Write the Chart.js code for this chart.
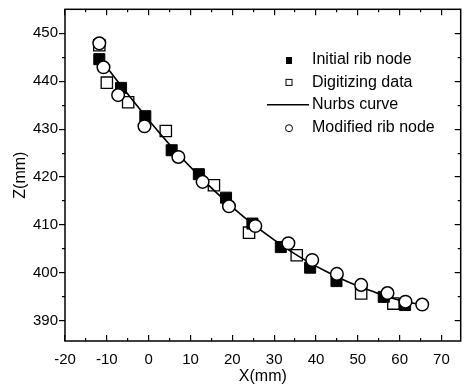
<!DOCTYPE html>
<html>
<head>
<meta charset="utf-8">
<script src="https://cdn.jsdelivr.net/npm/chart.js@4.4.0/dist/chart.umd.min.js"></script>
<style>
  html, body { margin: 0; padding: 0; background: #fff; }
</style>
</head>
<body>
<canvas id="ribChart" width="470" height="386"></canvas>
<script>
// values
const initX = [-11.8, -6.6, -0.8, 5.5, 12.0, 18.5, 24.8, 31.6, 38.6, 44.9, 56.2, 61.3];
const initZ = [444.6, 438.6, 432.7, 425.6, 420.6, 415.7, 410.3, 405.4, 401.1, 398.3, 395.0, 393.3];

const digX = [-11.8, -10.0, -4.9, 4.1, 15.6, 24.0, 35.4, 50.8, 58.5];
const digZ = [447.5, 439.7, 435.6, 429.6, 418.3, 408.4, 403.7, 395.7, 393.6];

const curveX = [-12, -6, 0, 6, 12, 18, 24, 30, 36, 42, 48, 54, 60, 65.5];
const curveZ = [445.2, 438.4, 431.9, 425.8, 420.3, 415.3, 410.8, 406.9, 403.4, 400.5, 398.0, 396.0, 394.3, 393.3];

const modX = [-11.8, -10.8, -7.3, -1.0, 7.1, 12.9, 19.2, 25.5, 33.4, 39.1, 45.0, 50.8, 57.1, 61.4, 65.4];
const modZ = [447.9, 442.9, 437.1, 430.6, 424.2, 419.0, 413.9, 409.8, 406.2, 402.7, 399.8, 397.5, 395.8, 394.0, 393.4];

const xTicks = [-20, -10, 0, 10, 20, 30, 40, 50, 60, 70];
const xMinor = [-15, -5, 5, 15, 25, 35, 45, 55, 65];
const zTicks = [390, 400, 410, 420, 430, 440, 450];
const zMinor = [395, 405, 415, 425, 435, 445];

const seriesNames = ['Initial rib node', 'Digitizing data', 'Nurbs curve', 'Modified rib node'];

const FONT = '"Liberation Sans", Arial, sans-serif';
const X_MIN = -20, X_MAX = 74.6, Z_MIN = 385.8, Z_MAX = 455;

function pts(xs, ys) {
  return xs.map((x, i) => ({ x: x, y: ys[i] }));
}

// no extra room for overhanging tick labels, keeps the plot box where the original has it
function noLabelPad(s) {
  s.paddingTop = 0;
  s.paddingBottom = 0;
  s.paddingLeft = 0;
  s.paddingRight = 0;
}

// tick-only axis: no labels, no space taken, marks only (negative length = inward)
function tickAxis(axis, position, values, len, weight) {
  const horiz = axis === 'x';
  return {
    type: 'linear',
    axis: axis,
    position: position,
    weight: weight,
    min: horiz ? X_MIN : Z_MIN,
    max: horiz ? X_MAX : Z_MAX,
    border: { display: false },
    grid: {
      display: true,
      drawOnChartArea: false,
      drawTicks: true,
      tickLength: len,
      color: '#000',
      lineWidth: 1.2
    },
    ticks: { display: false },
    afterBuildTicks: s => { s.ticks = values.map(v => ({ value: v })); },
    afterFit: s => {
      if (horiz) s.height = 0; else s.width = 0;
      noLabelPad(s);
    }
  };
}

// frame and the inner legend
const decor = {
  id: 'decor',
  afterDraw(chart) {
    const ctx = chart.ctx;
    const a = chart.chartArea;

    ctx.save();
    ctx.strokeStyle = '#000';
    ctx.lineWidth = 1.5;
    ctx.strokeRect(a.left, a.top, a.right - a.left, a.bottom - a.top);

    const mx = 289, tx = 312, y0 = 60, dy = 22.4;
    ctx.font = '16px ' + FONT;
    ctx.fillStyle = '#000';
    ctx.textBaseline = 'middle';
    ctx.textAlign = 'left';
    seriesNames.forEach((name, i) => {
      const y = y0 + i * dy;
      ctx.fillText(name, tx, y);
      if (i === 0) {
        ctx.fillRect(mx - 3, y - 3, 6, 7);
      } else if (i === 1) {
        ctx.lineWidth = 1;
        ctx.strokeRect(mx - 3, y - 3, 6, 6);
      } else if (i === 2) {
        ctx.lineWidth = 1.5;
        ctx.beginPath();
        ctx.moveTo(267, y); ctx.lineTo(309, y);
        ctx.stroke();
      } else {
        ctx.lineWidth = 1;
        ctx.beginPath();
        ctx.arc(mx, y + 1, 3.5, 0, Math.PI * 2);
        ctx.stroke();
      }
    });
    ctx.restore();
  }
};

new Chart(document.getElementById('ribChart'), {
  type: 'scatter',
  data: {
    datasets: [
      {
        label: seriesNames[3],
        data: pts(modX, modZ),
        pointStyle: 'circle',
        pointRadius: 6.3,
        pointBackgroundColor: '#fff',
        pointBorderColor: '#000',
        pointBorderWidth: 1.5,
        order: 0
      },
      {
        label: seriesNames[1],
        data: pts(digX, digZ),
        pointStyle: 'rect',
        pointRadius: 8,
        pointBackgroundColor: 'rgba(0,0,0,0)',
        pointBorderColor: '#000',
        pointBorderWidth: 1.3,
        order: 1
      },
      {
        label: seriesNames[2],
        data: pts(curveX, curveZ),
        showLine: true,
        cubicInterpolationMode: 'monotone',
        borderColor: '#000',
        borderWidth: 1.6,
        pointRadius: 0,
        order: 2
      },
      {
        label: seriesNames[0],
        data: pts(initX, initZ),
        pointStyle: 'rect',
        pointRadius: 7.8,
        pointBackgroundColor: '#000',
        pointBorderColor: '#000',
        pointBorderWidth: 1,
        order: 3
      }
    ]
  },
  options: {
    responsive: false,
    animation: false,
    events: [],
    layout: { padding: { left: 0, right: 1, top: 9, bottom: 0 } },
    plugins: {
      legend: { display: false },
      tooltip: { enabled: false }
    },
    scales: {
      x: {
        type: 'linear',
        position: 'bottom',
        weight: 0,
        min: X_MIN,
        max: X_MAX,
        grid: {
          display: true,
          drawOnChartArea: false,
          drawTicks: true,
          tickLength: -6,
          color: '#000',
          lineWidth: 1.2
        },
        border: { display: false },
        afterBuildTicks: s => { s.ticks = xTicks.map(v => ({ value: v })); },
        afterFit: s => { s.height = 45; noLabelPad(s); },
        ticks: {
          color: '#000',
          padding: 16,
          maxRotation: 0,
          font: { family: FONT, size: 15 }
        },
        title: {
          display: true,
          text: 'X(mm)',
          color: '#000',
          padding: { top: 0, bottom: 0 },
          font: { family: FONT, size: 16 }
        }
      },
      xMinorBottom: tickAxis('x', 'bottom', xMinor, -3, -1),
      xTop: tickAxis('x', 'top', xTicks, -6, 0),
      xMinorTop: tickAxis('x', 'top', xMinor, -3, -1),
      y: {
        type: 'linear',
        position: 'left',
        weight: 0,
        min: Z_MIN,
        max: Z_MAX,
        grid: {
          display: true,
          drawOnChartArea: false,
          drawTicks: true,
          tickLength: 6,
          color: '#000',
          lineWidth: 1.2
        },
        border: { display: false },
        afterBuildTicks: s => { s.ticks = zTicks.map(v => ({ value: v })); },
        afterFit: s => { s.width = 65; noLabelPad(s); },
        ticks: {
          color: '#000',
          padding: 1,
          font: { family: FONT, size: 15 }
        },
        title: {
          display: true,
          text: 'Z(mm)',
          color: '#000',
          padding: { top: 11, bottom: 0 },
          font: { family: FONT, size: 16 }
        }
      },
      yMinorLeft: tickAxis('y', 'left', zMinor, 3, -1),
      yRight: tickAxis('y', 'right', zTicks, -6, 0),
      yMinorRight: tickAxis('y', 'right', zMinor, -3, -1)
    }
  },
  plugins: [decor]
});
</script>
</body>
</html>
